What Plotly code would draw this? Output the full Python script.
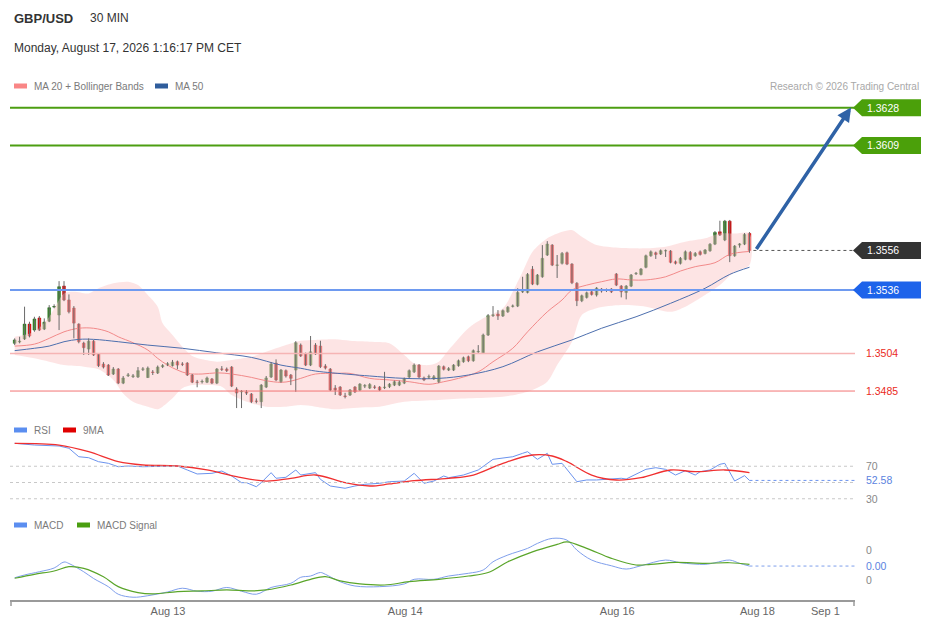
import plotly.graph_objects as go

W, H = 929, 629

# ---- price candles (30 min), index 0..149 ----
opens = [
    1.35091, 1.35098, 1.35113, 1.35188, 1.35158, 1.35219, 1.35163, 1.35203, 1.35274, 1.35234,
    1.35380, 1.35310, 1.35269, 1.35188, 1.35092, 1.35062, 1.35102, 1.35037, 1.34986, 1.34981,
    1.34936, 1.34961, 1.34890, 1.34928, 1.34924, 1.34921, 1.34960, 1.34918, 1.34946, 1.34941,
    1.34973, 1.34981, 1.34978, 1.34998, 1.34986, 1.34991, 1.34931, 1.34895, 1.34897, 1.34895,
    1.34911, 1.34890, 1.34961, 1.34961, 1.34971, 1.34860, 1.34846, 1.34845, 1.34835, 1.34799,
    1.34796, 1.34870, 1.34921, 1.34991, 1.34898, 1.34953, 1.34931, 1.34956, 1.35082, 1.35037,
    1.34981, 1.35082, 1.35077, 1.34976, 1.34961, 1.34865, 1.34870, 1.34825, 1.34830, 1.34870,
    1.34855, 1.34875, 1.34865, 1.34870, 1.34870, 1.34867, 1.34872, 1.34880, 1.34880, 1.34890,
    1.34921, 1.34947, 1.34981, 1.34916, 1.34921, 1.34911, 1.34897, 1.34973, 1.34956, 1.34956,
    1.34978, 1.34998, 1.35023, 1.35003, 1.35048, 1.35043, 1.35133, 1.35232, 1.35239, 1.35229,
    1.35250, 1.35278, 1.35279, 1.35351, 1.35348, 1.35465, 1.35389, 1.35427, 1.35537, 1.35587,
    1.35485, 1.35495, 1.35548, 1.35491, 1.35394, 1.35306, 1.35323, 1.35351, 1.35335, 1.35365,
    1.35360, 1.35365, 1.35441, 1.35380, 1.35348, 1.35380, 1.35443, 1.35439, 1.35475, 1.35533,
    1.35548, 1.35542, 1.35558, 1.35557, 1.35503, 1.35495, 1.35515, 1.35550, 1.35533, 1.35553,
    1.35545, 1.35559, 1.35592, 1.35654, 1.35613, 1.35708, 1.35533, 1.35587, 1.35592, 1.35646,
]
highs = [
    1.35116, 1.35124, 1.35276, 1.35200, 1.35225, 1.35229, 1.35217, 1.35284, 1.35288, 1.35405,
    1.35405, 1.35338, 1.35279, 1.35192, 1.35099, 1.35116, 1.35108, 1.35042, 1.34996, 1.34986,
    1.34971, 1.34966, 1.34926, 1.34941, 1.34936, 1.34971, 1.34971, 1.34974, 1.34956, 1.34979,
    1.34986, 1.34996, 1.35007, 1.35004, 1.34996, 1.34996, 1.34936, 1.34906, 1.34908, 1.34923,
    1.34916, 1.34966, 1.34976, 1.34969, 1.34976, 1.34869, 1.34855, 1.34855, 1.34840, 1.34813,
    1.34885, 1.34926, 1.34996, 1.35010, 1.34961, 1.34959, 1.34936, 1.35102, 1.35090, 1.35044,
    1.35128, 1.35092, 1.35104, 1.34986, 1.34966, 1.34880, 1.34875, 1.34841, 1.34860, 1.34875,
    1.34890, 1.34885, 1.34890, 1.34880, 1.34875, 1.34947, 1.34890, 1.34903, 1.34903, 1.34918,
    1.34959, 1.34989, 1.34986, 1.34923, 1.34933, 1.34931, 1.34981, 1.34979, 1.34971, 1.34986,
    1.35009, 1.35024, 1.35029, 1.35060, 1.35082, 1.35140, 1.35239, 1.35279, 1.35259, 1.35262,
    1.35279, 1.35287, 1.35369, 1.35427, 1.35446, 1.35481, 1.35441, 1.35587, 1.35607, 1.35592,
    1.35537, 1.35552, 1.35554, 1.35496, 1.35400, 1.35337, 1.35352, 1.35358, 1.35375, 1.35370,
    1.35368, 1.35370, 1.35446, 1.35385, 1.35385, 1.35441, 1.35451, 1.35471, 1.35539, 1.35560,
    1.35554, 1.35565, 1.35565, 1.35562, 1.35509, 1.35527, 1.35560, 1.35557, 1.35552, 1.35560,
    1.35567, 1.35597, 1.35658, 1.35710, 1.35714, 1.35714, 1.35587, 1.35597, 1.35648, 1.35653,
]
lows = [
    1.35082, 1.35091, 1.35108, 1.35121, 1.35149, 1.35153, 1.35158, 1.35198, 1.35268, 1.35158,
    1.35304, 1.35242, 1.35116, 1.35091, 1.35032, 1.35032, 1.35027, 1.34971, 1.34964, 1.34926,
    1.34931, 1.34885, 1.34885, 1.34921, 1.34916, 1.34916, 1.34951, 1.34916, 1.34931, 1.34936,
    1.34966, 1.34976, 1.34974, 1.34960, 1.34976, 1.34926, 1.34890, 1.34869, 1.34888, 1.34890,
    1.34885, 1.34885, 1.34951, 1.34946, 1.34870, 1.34764, 1.34764, 1.34830, 1.34789, 1.34788,
    1.34764, 1.34865, 1.34916, 1.34900, 1.34892, 1.34918, 1.34880, 1.34846, 1.35022, 1.34976,
    1.34976, 1.35032, 1.34966, 1.34959, 1.34850, 1.34830, 1.34825, 1.34813, 1.34825, 1.34840,
    1.34850, 1.34865, 1.34860, 1.34860, 1.34850, 1.34860, 1.34865, 1.34875, 1.34875, 1.34885,
    1.34916, 1.34941, 1.34916, 1.34900, 1.34911, 1.34906, 1.34890, 1.34954, 1.34951, 1.34951,
    1.34973, 1.34993, 1.34996, 1.34998, 1.35040, 1.35039, 1.35128, 1.35224, 1.35209, 1.35224,
    1.35245, 1.35272, 1.35274, 1.35345, 1.35343, 1.35385, 1.35384, 1.35422, 1.35532, 1.35481,
    1.35421, 1.35489, 1.35486, 1.35390, 1.35279, 1.35299, 1.35317, 1.35332, 1.35327, 1.35347,
    1.35350, 1.35345, 1.35380, 1.35323, 1.35313, 1.35375, 1.35436, 1.35434, 1.35470, 1.35528,
    1.35517, 1.35537, 1.35527, 1.35495, 1.35489, 1.35489, 1.35510, 1.35510, 1.35528, 1.35534,
    1.35540, 1.35553, 1.35587, 1.35633, 1.35607, 1.35501, 1.35528, 1.35574, 1.35587, 1.35548,
]
closes = [
    1.35108, 1.35101, 1.35188, 1.35128, 1.35214, 1.35158, 1.35198, 1.35271, 1.35277, 1.35377,
    1.35310, 1.35250, 1.35193, 1.35099, 1.35069, 1.35102, 1.35032, 1.34978, 1.34971, 1.34931,
    1.34961, 1.34890, 1.34916, 1.34931, 1.34926, 1.34953, 1.34961, 1.34966, 1.34944, 1.34971,
    1.34978, 1.34988, 1.34996, 1.34981, 1.34985, 1.34931, 1.34895, 1.34894, 1.34898, 1.34916,
    1.34890, 1.34961, 1.34960, 1.34953, 1.34875, 1.34840, 1.34848, 1.34840, 1.34796, 1.34798,
    1.34880, 1.34916, 1.34986, 1.34906, 1.34956, 1.34926, 1.34914, 1.35094, 1.35027, 1.34981,
    1.35048, 1.35037, 1.34973, 1.34966, 1.34855, 1.34855, 1.34830, 1.34823, 1.34855, 1.34846,
    1.34885, 1.34877, 1.34883, 1.34869, 1.34855, 1.34869, 1.34885, 1.34897, 1.34895, 1.34911,
    1.34953, 1.34981, 1.34921, 1.34906, 1.34922, 1.34922, 1.34976, 1.34960, 1.34963, 1.34981,
    1.35003, 1.35018, 1.35003, 1.35054, 1.35050, 1.35133, 1.35230, 1.35234, 1.35229, 1.35256,
    1.35273, 1.35279, 1.35348, 1.35353, 1.35439, 1.35390, 1.35436, 1.35520, 1.35592, 1.35486,
    1.35486, 1.35545, 1.35491, 1.35397, 1.35306, 1.35331, 1.35346, 1.35338, 1.35370, 1.35355,
    1.35359, 1.35351, 1.35385, 1.35351, 1.35380, 1.35436, 1.35444, 1.35466, 1.35533, 1.35553,
    1.35540, 1.35559, 1.35559, 1.35500, 1.35495, 1.35520, 1.35553, 1.35515, 1.35545, 1.35540,
    1.35562, 1.35591, 1.35651, 1.35638, 1.35708, 1.35533, 1.35582, 1.35592, 1.35641, 1.35560,
]
candle_idx = list(range(len(closes)))

# ---- overlays read at sample candles ----
ma20_idx = [0, 4, 7, 10, 13, 16, 19, 21, 24, 27, 29, 31, 33, 35, 38, 41, 44, 48, 51, 54,
            56, 58, 61, 65, 68, 72, 76, 80, 84, 87, 90, 94, 97, 101, 104, 108, 111, 113, 116, 119,
            122, 125, 128, 132, 135, 138, 142, 145, 149]
ma20 = [1.35077, 1.35087, 1.35116, 1.35149, 1.35167, 1.35167, 1.35149, 1.35124, 1.35094, 1.35057,
        1.35015, 1.34981, 1.34956, 1.34939, 1.34936, 1.34942, 1.34936, 1.34919, 1.34902, 1.34894,
        1.34900, 1.34914, 1.34936, 1.34939, 1.34939, 1.34914, 1.34906, 1.34897, 1.34884, 1.34897,
        1.34914, 1.34947, 1.34998, 1.35066, 1.35149, 1.35250, 1.35310, 1.35360, 1.35385, 1.35402,
        1.35416, 1.35411, 1.35411, 1.35427, 1.35456, 1.35478, 1.35498, 1.35540, 1.35555]

ma50_idx = [0, 4, 7, 10, 13, 16, 21, 27, 34, 41, 48, 54, 58, 61, 68, 72, 79, 86, 92, 99,
            106, 113, 119, 126, 133, 140, 145, 149]
ma50 = [1.35054, 1.35066, 1.35077, 1.35099, 1.35111, 1.35111, 1.35099, 1.35082, 1.35066, 1.35043,
        1.35020, 1.34981, 1.34965, 1.34951, 1.34934, 1.34926, 1.34914, 1.34914, 1.34931, 1.34973,
        1.35048, 1.35108, 1.35167, 1.35225, 1.35293, 1.35369, 1.35439, 1.35475]

bb_up_idx = [0, 4, 7, 10, 12, 15, 17, 20, 23, 25, 27, 29, 30, 32, 34, 36, 38, 41, 44, 48,
             51, 55, 58, 61, 65, 68, 72, 76, 79, 81, 84, 86, 88, 92, 95, 99, 101, 103, 105, 108,
             111, 113, 115, 118, 121, 125, 128, 132, 136, 140, 143, 146, 149]
bb_up = [1.35124, 1.35149, 1.35225, 1.35343, 1.35351, 1.35343, 1.35369, 1.35394, 1.35402, 1.35385,
         1.35335, 1.35276, 1.35192, 1.35133, 1.35074, 1.35027, 1.35010, 1.34998, 1.35007, 1.35023,
         1.35048, 1.35082, 1.35104, 1.35108, 1.35111, 1.35104, 1.35099, 1.35091, 1.35032, 1.34990,
         1.34981, 1.34998, 1.35057, 1.35167, 1.35217, 1.35268, 1.35351, 1.35452, 1.35553, 1.35621,
         1.35654, 1.35663, 1.35629, 1.35587, 1.35576, 1.35571, 1.35571, 1.35579, 1.35604, 1.35621,
         1.35646, 1.35646, 1.35646]

bb_lo_idx = [0, 4, 7, 10, 14, 17, 20, 22, 24, 27, 29, 30, 32, 34, 36, 39, 42, 44, 48, 51,
             55, 58, 61, 65, 68, 71, 74, 79, 86, 92, 99, 104, 108, 110, 113, 115, 118, 123, 128, 133,
             136, 140, 143, 146, 149]
bb_lo = [1.35032, 1.35015, 1.34998, 1.34981, 1.34973, 1.34960, 1.34906, 1.34838, 1.34796, 1.34771,
         1.34758, 1.34771, 1.34813, 1.34864, 1.34880, 1.34880, 1.34872, 1.34830, 1.34788, 1.34771,
         1.34771, 1.34779, 1.34771, 1.34758, 1.34763, 1.34768, 1.34771, 1.34796, 1.34805, 1.34813,
         1.34821, 1.34846, 1.34897, 1.34981, 1.35099, 1.35234, 1.35268, 1.35284, 1.35276, 1.35250,
         1.35276, 1.35335, 1.35385, 1.35452, 1.35486]

# ---- RSI panel ----
rsi_idx = [0, 4, 9, 11, 13, 15, 17, 19, 21, 23, 26, 28, 31, 33, 35, 37, 40, 42, 44, 46,
           47, 49, 50, 52, 53, 55, 57, 58, 61, 62, 64, 67, 69, 71, 74, 76, 79, 81, 83, 85,
           87, 88, 91, 93, 94, 97, 99, 101, 103, 104, 106, 108, 109, 111, 114, 116, 118, 121, 123, 124,
           126, 128, 130, 132, 134, 136, 138, 139, 141, 143, 144, 146, 148, 149]
rsi = [98.2, 96.1, 94.9, 92.1, 81.7, 80.5, 75.6, 73.6, 69.4, 70.3, 69.4, 69.4, 70.3, 70.3, 65.4,
       60.5, 61.3, 64.1, 58.0, 49.8, 49.8, 44.8, 49.8, 62.1, 55.2, 56.4, 65.4, 59.2, 62.1, 53.9,
       45.7, 42.9, 45.7, 47.8, 49.0, 51.0, 51.8, 61.3, 49.0, 51.8, 58.0, 55.9, 59.2, 63.3, 65.4,
       78.5, 79.8, 81.7, 85.9, 87.9, 78.5, 85.9, 72.4, 73.6, 51.0, 53.1, 53.1, 53.9, 55.2, 54.3,
       60.1, 66.2, 68.2, 66.2, 59.2, 64.5, 59.2, 63.3, 65.4, 72.4, 73.6, 51.8, 58.4, 52.58]

rsi_ma_idx = [0, 9, 15, 21, 26, 33, 39, 45, 51, 56, 61, 67, 72, 76, 81, 88, 93, 99, 105, 109,
              112, 117, 122, 127, 133, 138, 144, 149]
rsi_ma = [98.2, 96.1, 87.9, 75.6, 71.5, 70.3, 65.4, 57.1, 51.8, 55.2, 59.2, 49.8, 45.7, 48.2, 52.2,
          55.2, 59.2, 73.6, 83.8, 82.6, 75.6, 59.2, 53.1, 55.9, 65.4, 63.3, 65.4, 62.1]

# ---- MACD panel ----
macd_idx = [0, 2, 5, 8, 10, 11, 14, 16, 19, 21, 24, 27, 31, 34, 37, 40, 43, 46, 49, 52,
            56, 58, 60, 62, 63, 66, 69, 74, 79, 81, 85, 88, 92, 95, 97, 100, 104, 106, 109, 112,
            114, 117, 121, 124, 127, 132, 135, 140, 142, 145, 147, 149]
macd = [0.00003, 0.000067, 0.00011, 0.00016, 0.00024, 0.00022, 0.00011, 0.00002, -0.00009, -0.00019,
        -0.00023, -0.00021, -0.00016, -0.00011, -0.00015, -0.00015, -0.00010, -0.00015, -0.00019, -0.00010,
        -0.000044, 0.000036, 0.000053, 0.00010, 0.000076, -0.000023, -0.00008, -0.000089, -0.000053, 0.000009,
        0.000009, 0.000053, 0.000089, 0.000133, 0.000243, 0.000333, 0.000422, 0.000488, 0.000555, 0.000532,
        0.000399, 0.000266, 0.00019, 0.000146, 0.00019, 0.000266, 0.00023, 0.000209, 0.00023, 0.000266,
        0.000222, 0.000186]

signal_idx = [0, 4, 8, 11, 14, 18, 21, 25, 28, 33, 38, 43, 48, 51, 56, 60, 63, 66, 70, 75,
              80, 86, 92, 96, 100, 105, 110, 112, 116, 121, 126, 129, 134, 140, 145, 149]
signal = [0.000023, 0.000076, 0.00012, 0.000177, 0.000156, 0.000044, -0.000089, -0.000169, -0.000186, -0.000156,
          -0.000146, -0.000133, -0.000146, -0.000133, -0.000067, 0.000009, 0.000044, -0.000013, -0.000053, -0.000067,
          -0.000023, 0.000009, 0.000053, 0.00010, 0.000243, 0.000376, 0.000475, 0.000509, 0.000422, 0.000289,
          0.0002, 0.000209, 0.000235, 0.000222, 0.00023, 0.000209]

# ---- levels and axis labels ----
green_levels = [1.3628, 1.3609]
last_price = 1.3556
blue_level = 1.3536
red_levels = [1.3504, 1.3485]
tick_pos = [31.1, 79.2, 122.2, 150.6, 164.4]
tick_text = ["Aug 13", "Aug 14", "Aug 16", "Aug 18", "Sep 1"]

# ---- geometry (page has an 8px body margin, so work in screen px minus 8) ----
OFF = 8
ML = 10 - OFF
PW = 845
MR = W - ML - PW
X_RANGE = [-0.95, 170.4]
Y_RANGE = [1.34729, 1.36345]
RSI_RANGE = [21.1, 107.2]
MACD_RANGE = [-0.000267, 0.000667]


def px_x(px):
    return (px - OFF - ML) / PW


def px_y(py):
    return 1 - (py - OFF) / H


MAIN_DOM = [px_y(415), px_y(95)]
RSI_DOM = [px_y(506), px_y(436)]
MACD_DOM = [px_y(600), px_y(530)]


def price_py(p):
    f = MAIN_DOM[0] + (p - Y_RANGE[0]) / (Y_RANGE[1] - Y_RANGE[0]) * (MAIN_DOM[1] - MAIN_DOM[0])
    return (1 - f) * H + OFF


FONT = "Liberation Sans, Arial, sans-serif"

fig = go.Figure()

# bollinger band
band_x = bb_up_idx + bb_lo_idx[::-1]
band_y = bb_up + bb_lo[::-1]
fig.add_trace(go.Scatter(x=band_x, y=band_y, fill="toself", mode="lines",
                         fillcolor="rgba(252, 205, 205, 0.55)",
                         line=dict(width=0, shape="spline", smoothing=0.8),
                         hoverinfo="skip", showlegend=False))
fig.add_trace(go.Scatter(x=ma20_idx, y=ma20, mode="lines",
                         line=dict(color="#f28a8a", width=1, shape="spline"),
                         showlegend=False))
fig.add_trace(go.Scatter(x=ma50_idx, y=ma50, mode="lines",
                         line=dict(color="#4d6fae", width=1, shape="spline"),
                         showlegend=False))

# wicks
wx, wy = [], []
for i in candle_idx:
    wx += [i, i, None]
    wy += [lows[i], highs[i], None]
fig.add_trace(go.Scatter(x=wx, y=wy, mode="lines", line=dict(color="#6a6a6a", width=1),
                         hoverinfo="skip", showlegend=False))

body_hi = [max(o, c) for o, c in zip(opens, closes)]
body_lo = [min(o, c) for o, c in zip(opens, closes)]
fig.add_trace(go.Candlestick(
    x=candle_idx, open=opens, high=body_hi, low=body_lo, close=closes,
    increasing=dict(fillcolor="#2b8a1c", line=dict(color="#236e17", width=0.6)),
    decreasing=dict(fillcolor="#e60000", line=dict(color="#b80000", width=0.6)),
    whiskerwidth=0, showlegend=False))

# RSI
fig.add_trace(go.Scatter(x=rsi_idx, y=rsi, mode="lines", xaxis="x2", yaxis="y2",
                         line=dict(color="#6b93ee", width=1), showlegend=False))
fig.add_trace(go.Scatter(x=rsi_ma_idx, y=rsi_ma, mode="lines", xaxis="x2", yaxis="y2",
                         line=dict(color="#f03030", width=1.3, shape="spline"), showlegend=False))

# MACD
fig.add_trace(go.Scatter(x=macd_idx, y=macd, mode="lines", xaxis="x3", yaxis="y3",
                         line=dict(color="#7f9fec", width=1, shape="spline"), showlegend=False))
fig.add_trace(go.Scatter(x=signal_idx, y=signal, mode="lines", xaxis="x3", yaxis="y3",
                         line=dict(color="#5aa52a", width=1.2, shape="spline"), showlegend=False))

shapes = []
annos = []


def level_line(p, color, width, dash="solid"):
    shapes.append(dict(type="line", xref="paper", yref="y", x0=0, x1=1, y0=p, y1=p,
                       line=dict(color=color, width=width, dash=dash)))


def tag(p, bg, txt_color="white"):
    py = price_py(p)
    path = "M {a},{m} L {b},{t} L {c},{t} L {c},{bt} L {b},{bt} Z".format(
        a=px_x(853), b=px_x(862), c=px_x(925), m=px_y(py), t=px_y(py - 8.5), bt=px_y(py + 8.5))
    shapes.append(dict(type="path", xref="paper", yref="paper", path=path,
                       fillcolor=bg, line=dict(width=0)))
    annos.append(dict(x=px_x(865), y=p, xref="paper", yref="y", text="%.4f" % p,
                      showarrow=False, xanchor="left", yanchor="middle",
                      font=dict(family=FONT, size=10.5, color=txt_color)))


for p in green_levels:
    level_line(p, "#4c9e12", 2)
    tag(p, "#4ba00a")

level_line(blue_level, "#6e9af0", 2)
tag(blue_level, "#1d63ea")

shapes.append(dict(type="line", xref="x", yref="y", x0=candle_idx[-1] + 0.8, x1=X_RANGE[1],
                   y0=last_price, y1=last_price, line=dict(color="#555555", width=1, dash="dot")))
tag(last_price, "#333333")

level_line(red_levels[0], "#f6b4b4", 1.5)
level_line(red_levels[1], "#f27474", 1)
for p in red_levels:
    annos.append(dict(x=px_x(864), y=p, xref="paper", yref="y", text="%.4f" % p,
                      showarrow=False, xanchor="left", yanchor="middle",
                      font=dict(family=FONT, size=10.5, color="#ea2a22")))

# projection arrow
annos.append(dict(x=169.6, y=green_levels[0] + 0.00002, xref="x", yref="y",
                  ax=candle_idx[-1] + 1.2, ay=last_price, axref="x", ayref="y",
                  showarrow=True, arrowhead=2, arrowsize=0.8, arrowwidth=3.5,
                  arrowcolor="#2f62a6", text=""))

# RSI guides
for v in [70, 50, 30]:
    shapes.append(dict(type="line", xref="x2", yref="y2", x0=X_RANGE[0], x1=X_RANGE[1],
                       y0=v, y1=v, line=dict(color="#c8c8c8", width=1, dash="dot")))
shapes.append(dict(type="line", xref="x2", yref="y2", x0=candle_idx[-1], x1=X_RANGE[1],
                   y0=rsi[-1], y1=rsi[-1], line=dict(color="#6b93ee", width=1, dash="dot")))
for v, col, txt in [(70, "#888888", "70"), (rsi[-1], "#5b83e0", "%.2f" % rsi[-1]), (30, "#888888", "30")]:
    annos.append(dict(x=px_x(864), y=v, xref="paper", yref="y2", text=txt, showarrow=False,
                      xanchor="left", yanchor="middle", font=dict(family=FONT, size=10.5, color=col)))

# MACD guides
shapes.append(dict(type="line", xref="x3", yref="y3", x0=candle_idx[-1], x1=X_RANGE[1],
                   y0=macd[-1], y1=macd[-1], line=dict(color="#7f9fec", width=1, dash="dot")))
for v, col, txt in [(0.0004, "#888888", "0"), (macd[-1], "#5b83e0", "%.2f" % macd[-1]), (0.0, "#888888", "0")]:
    annos.append(dict(x=px_x(864), y=v, xref="paper", yref="y3", text=txt, showarrow=False,
                      xanchor="left", yanchor="middle", font=dict(family=FONT, size=10.5, color=col)))

# bottom axis end caps
for px in [11, 854]:
    shapes.append(dict(type="line", xref="paper", yref="paper", x0=px_x(px), x1=px_x(px),
                       y0=px_y(600), y1=px_y(606), line=dict(color="#9a9a9a", width=1.5)))

# right / bottom page frame
shapes.append(dict(type="line", xref="paper", yref="paper", x0=px_x(927.5), x1=px_x(927.5),
                   y0=px_y(628), y1=px_y(8), line=dict(color="#e6eaf0", width=2)))


def legend_item(x_sw, y_px, color, label):
    shapes.append(dict(type="rect", xref="paper", yref="paper", x0=px_x(x_sw), x1=px_x(x_sw + 13),
                       y0=px_y(y_px + 2.5), y1=px_y(y_px - 2.5), fillcolor=color, line=dict(width=0)))
    annos.append(dict(x=px_x(x_sw + 18), y=px_y(y_px), xref="paper", yref="paper", text=label,
                      showarrow=False, xanchor="left", yanchor="middle",
                      font=dict(family=FONT, size=10, color="#7a7a7a")))


legend_item(14, 86, "#f98686", "MA 20 + Bollinger Bands")
legend_item(155, 86, "#2f5d9c", "MA 50")
legend_item(14, 430, "#5b8ef0", "RSI")
legend_item(63, 430, "#e00000", "9MA")
legend_item(14, 525, "#5b8ef0", "MACD")
legend_item(77, 525, "#4a9e10", "MACD Signal")

# header
annos.append(dict(x=px_x(12), y=px_y(18), xref="paper", yref="paper", text="<b>GBP/USD</b>",
                  showarrow=False, xanchor="left", yanchor="middle",
                  font=dict(family=FONT, size=13, color="#333333")))
annos.append(dict(x=px_x(88), y=px_y(18), xref="paper", yref="paper", text="30 MIN",
                  showarrow=False, xanchor="left", yanchor="middle",
                  font=dict(family=FONT, size=12, color="#333333")))
annos.append(dict(x=px_x(12), y=px_y(48), xref="paper", yref="paper",
                  text="Monday, August 17, 2026 1:16:17 PM CET",
                  showarrow=False, xanchor="left", yanchor="middle",
                  font=dict(family=FONT, size=12, color="#333333")))
annos.append(dict(x=px_x(921), y=px_y(86), xref="paper", yref="paper",
                  text="Research © 2026 Trading Central",
                  showarrow=False, xanchor="right", yanchor="middle",
                  font=dict(family=FONT, size=10, color="#a8a8a8")))

hidden = dict(showgrid=False, zeroline=False, showticklabels=False, showline=False, ticks="")
fig.update_layout(
    width=W, height=H,
    margin=dict(l=ML, r=MR, t=0, b=0),
    paper_bgcolor="white", plot_bgcolor="white",
    showlegend=False,
    boxgap=0.22,
    xaxis=dict(range=X_RANGE, domain=[0, 1], anchor="y", rangeslider=dict(visible=False), **hidden),
    xaxis2=dict(range=X_RANGE, domain=[0, 1], anchor="y2", **hidden),
    xaxis3=dict(range=X_RANGE, domain=[0, 1], anchor="y3", showgrid=False, zeroline=False,
                showline=True, linecolor="#9a9a9a", linewidth=1.5, ticks="",
                tickvals=tick_pos, ticktext=tick_text,
                tickfont=dict(family=FONT, size=11, color="#666666")),
    yaxis=dict(range=Y_RANGE, domain=MAIN_DOM, anchor="x", **hidden),
    yaxis2=dict(range=RSI_RANGE, domain=RSI_DOM, anchor="x2", **hidden),
    yaxis3=dict(range=MACD_RANGE, domain=MACD_DOM, anchor="x3", **hidden),
    shapes=shapes,
    annotations=annos,
)

fig.write_html("out.html")
